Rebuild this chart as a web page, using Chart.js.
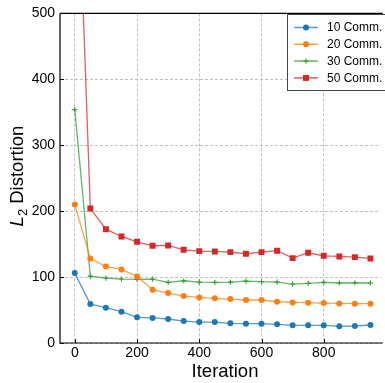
<!DOCTYPE html>
<html lang="en">
  <head>
    <meta charset="UTF-8" />
    <title>L2 Distortion vs Iteration</title>
    <script src="https://cdn.jsdelivr.net/npm/chart.js@4.4.0/dist/chart.umd.min.js"></script>
    <style>
      html, body { margin: 0; padding: 0; background: #fff; }
      #distChart { display: block; }
    </style>
  </head>
  <body>
    <canvas id="distChart" width="385" height="383"></canvas>

    <script>
      // Values
      const iterations = [0, 50, 100, 150, 200, 250, 300, 350, 400, 450, 500, 550, 600, 650, 700, 750, 800, 850, 900, 950];
      const comm10 = [106, 59, 53.5, 47.5, 39, 38, 36.4, 33.3, 31.8, 31.8, 29.8, 29.3, 29.3, 28.3, 26.8, 26.8, 26.8, 25.3, 25.8, 27.3];
      const comm20 = [210, 128, 116, 111.6, 101, 80.8, 75.7, 71.2, 69.2, 67.7, 66.7, 65.2, 65.2, 62.6, 61.6, 61.1, 60.6, 60.1, 59.6, 59.6];
      const comm30 = [354, 101.5, 98.5, 97, 96.5, 97, 92, 94.4, 92.4, 92, 92.4, 94, 93, 92.4, 89.4, 90.4, 92, 91, 91.4, 91];
      const comm50 = [860, 204, 172.7, 161.6, 153.5, 147.5, 148, 141.4, 139.4, 138.9, 137.9, 135.4, 137.9, 140, 128.8, 136.9, 132.3, 131.3, 130.3, 128.3];
      const seriesLabels = ["10 Comm.", "20 Comm.", "30 Comm.", "50 Comm."];
      const xTicks = [0, 200, 400, 600, 800];
      const yTicks = [0, 100, 200, 300, 400, 500];

      const FONT = "'Liberation Sans', Arial, sans-serif";

      function series(values) {
        return iterations.map((it, i) => ({ x: it, y: values[i] }));
      }

      function makeDataset(label, values, color, rgb, style, radius) {
        return {
          label: label,
          data: series(values),
          borderColor: "rgba(" + rgb + ",0.75)",
          borderWidth: 1.3,
          pointStyle: style,
          pointRadius: radius,
          pointHoverRadius: radius,
          pointBackgroundColor: color,
          pointBorderColor: color,
          pointBorderWidth: style === "cross" ? 1.1 : 0,
          tension: 0,
        };
      }

      const datasets = [
        makeDataset(seriesLabels[0], comm10, "#1f77b4", "31,119,180", "circle", 3),
        makeDataset(seriesLabels[1], comm20, "#ff7f0e", "255,127,14", "circle", 3),
        makeDataset(seriesLabels[2], comm30, "#2ca02c", "44,160,44", "cross", 2.6),
        makeDataset(seriesLabels[3], comm50, "#d62728", "214,39,40", "rect", 4.2),
      ];

      // frame, inward ticks, axis titles and the boxed legend
      const decorPlugin = {
        id: "decor",
        afterDatasetsDraw(chart) {
          const ctx = chart.ctx;
          const a = chart.chartArea;
          const xs = chart.scales.x;
          const ys = chart.scales.y;
          ctx.save();

          // frame
          ctx.strokeStyle = "#000";
          ctx.lineWidth = 1.2;
          ctx.beginPath();
          ctx.moveTo(a.left, a.top);
          ctx.lineTo(a.left, a.bottom);
          ctx.lineTo(a.right + 2, a.bottom);
          ctx.moveTo(a.left, a.top);
          ctx.lineTo(a.right + 2, a.top);
          ctx.stroke();

          // inward ticks
          ctx.lineWidth = 1;
          ctx.beginPath();
          xTicks.forEach((v) => {
            const px = Math.round(xs.getPixelForValue(v)) + 0.5;
            ctx.moveTo(px, a.bottom);
            ctx.lineTo(px, a.bottom - 4);
          });
          yTicks.forEach((v) => {
            const py = Math.round(ys.getPixelForValue(v)) + 0.5;
            ctx.moveTo(a.left, py);
            ctx.lineTo(a.left + 4, py);
          });
          ctx.stroke();

          // x title
          ctx.fillStyle = "#000";
          ctx.font = "18.5px " + FONT;
          ctx.textAlign = "center";
          ctx.textBaseline = "middle";
          ctx.fillText("Iteration", 225, 372);

          // y title: italic L with subscript 2
          ctx.translate(17, 176);
          ctx.rotate(-Math.PI / 2);
          ctx.textAlign = "left";
          ctx.textBaseline = "alphabetic";
          const fL = "italic 18.5px " + FONT;
          const fSub = "13px " + FONT;
          const fMain = "18.5px " + FONT;
          ctx.font = fL;
          const wL = ctx.measureText("L").width;
          ctx.font = fSub;
          const wSub = ctx.measureText("2").width;
          ctx.font = fMain;
          const wMain = ctx.measureText(" Distortion").width;
          let x0 = -(wL + wSub + wMain) / 2;
          const base = 6;
          ctx.font = fL;
          ctx.fillText("L", x0, base);
          x0 += wL;
          ctx.font = fSub;
          ctx.fillText("2", x0, base + 3.5);
          x0 += wSub;
          ctx.font = fMain;
          ctx.fillText(" Distortion", x0, base);
          ctx.restore();

          // legend
          ctx.save();
          const lx = 287, ly = 14.5, lw = 105, lh = 76;
          ctx.fillStyle = "#fff";
          ctx.fillRect(lx, ly, lw, lh);
          ctx.strokeStyle = "#444";
          ctx.lineWidth = 1;
          ctx.strokeRect(lx + 0.5, ly, lw, lh);
          ctx.font = "12px " + FONT;
          ctx.textBaseline = "middle";
          ctx.textAlign = "left";
          chart.data.datasets.forEach((ds, i) => {
            const ry = 27.5 + i * 16.8;
            ctx.strokeStyle = ds.borderColor;
            ctx.lineWidth = 1.5;
            ctx.beginPath();
            ctx.moveTo(294, ry);
            ctx.lineTo(318, ry);
            ctx.stroke();
            ctx.fillStyle = ds.pointBackgroundColor;
            ctx.strokeStyle = ds.pointBorderColor;
            if (ds.pointStyle === "circle") {
              ctx.beginPath();
              ctx.arc(306, ry, 3, 0, Math.PI * 2);
              ctx.fill();
            } else if (ds.pointStyle === "cross") {
              ctx.lineWidth = 1.1;
              ctx.beginPath();
              ctx.moveTo(303.4, ry);
              ctx.lineTo(308.6, ry);
              ctx.moveTo(306, ry - 2.6);
              ctx.lineTo(306, ry + 2.6);
              ctx.stroke();
            } else {
              ctx.fillRect(303, ry - 3, 6, 6);
            }
            ctx.fillStyle = "#000";
            ctx.fillText(ds.label, 327, ry + 0.5);
          });
          ctx.restore();
        },
      };

      function init() {
        const ctx = document.getElementById("distChart").getContext("2d");
        new Chart(ctx, {
          type: "line",
          data: { datasets: datasets },
          options: {
            responsive: false,
            animation: false,
            devicePixelRatio: 1,
            layout: { padding: { top: 13, right: 0, left: 0, bottom: 0 } },
            plugins: {
              legend: { display: false },
              tooltip: { enabled: false },
            },
            scales: {
              x: {
                type: "linear",
                min: -47.5,
                max: 983.3,
                afterFit: (s) => { s.height = 40; },
                afterBuildTicks: (s) => { s.ticks = xTicks.map((v) => ({ value: v })); },
                ticks: {
                  color: "#000",
                  font: { family: FONT, size: 14 },
                  padding: 2,
                  maxRotation: 0,
                },
                grid: { color: "#b0b0b0", lineWidth: 0.8, drawTicks: false },
                border: { display: false, dash: [3, 2] },
              },
              y: {
                min: 0,
                max: 500,
                afterFit: (s) => { s.width = 60; },
                afterBuildTicks: (s) => { s.ticks = yTicks.map((v) => ({ value: v })); },
                ticks: {
                  color: "#000",
                  font: { family: FONT, size: 14 },
                  padding: 5,
                },
                grid: { color: "#b0b0b0", lineWidth: 0.8, drawTicks: false },
                border: { display: false, dash: [3, 2] },
              },
            },
          },
          plugins: [decorPlugin],
        });
      }

      window.onload = init;
    </script>
  </body>
</html>
